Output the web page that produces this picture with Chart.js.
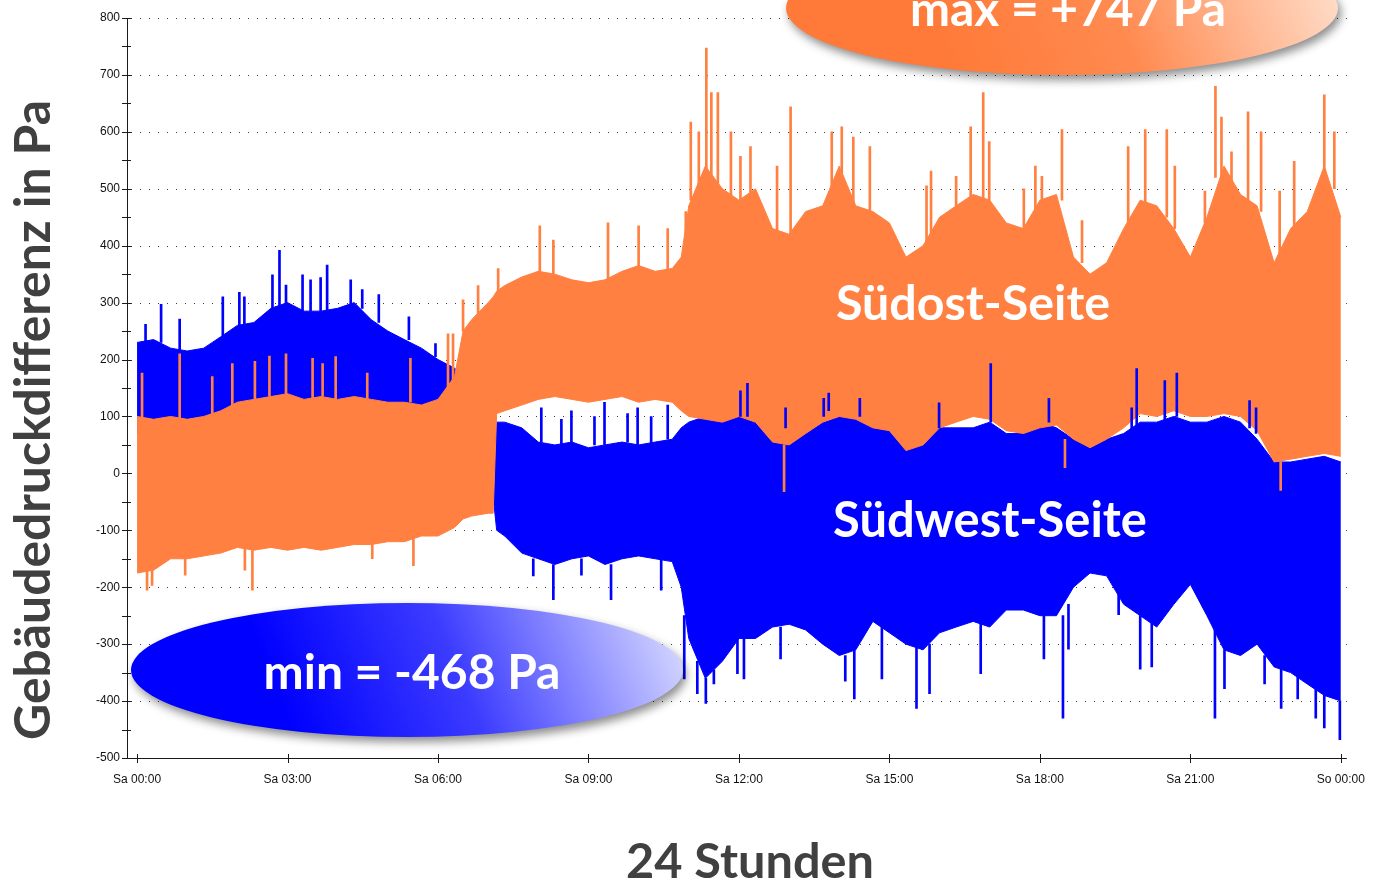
<!DOCTYPE html>
<html>
<head>
<meta charset="utf-8">
<script src="https://cdn.jsdelivr.net/npm/chart.js@4.4.0/dist/chart.umd.min.js"></script>
<style>
    html, body { margin: 0; padding: 0; background: #fff; }
    #wrap { width: 1379px; height: 883px; }
</style>
</head>
<body>
<div id="wrap"><canvas id="chart" width="1379" height="883"></canvas></div>
<script>
// time of day in hours (Sa 00:00 = 0, So 00:00 = 24)
const hours = [0, 0.33, 0.67, 1, 1.33, 1.67, 2, 2.33, 2.67, 3, 3.33, 3.67, 4, 4.33, 4.67, 5, 5.33, 5.67, 6, 6.33,
    6.5, 6.67, 7, 7.1, 7.17, 7.33, 7.67, 8, 8.33, 8.67, 9, 9.33, 9.67, 10, 10.33, 10.67, 10.85,
    11, 11.33, 11.67, 12, 12.33, 12.67, 13, 13.33, 13.67, 14, 14.33, 14.67, 15, 15.33, 15.67,
    16, 16.33, 16.67, 17, 17.33, 17.67, 18, 18.33, 18.67, 19, 19.33, 19.67, 20, 20.33, 20.67,
    21, 21.33, 21.67, 22, 22.33, 22.67, 23, 23.33, 23.67, 24];

// Südost-Seite: upper / lower envelope in Pa
const suedostHigh = [100, 95, 100, 95, 100, 110, 125, 130, 135, 140, 130, 135, 130, 135, 130, 125, 125, 120, 130, 170,
    250, 270, 300, 310, 320, 330, 345, 355, 350, 340, 335, 340, 355, 365, 355, 360, 380,
    470, 540, 500, 480, 500, 430, 420, 460, 470, 540, 470, 460, 440, 380, 400,
    450, 470, 490, 480, 440, 430, 480, 490, 380, 350, 370, 430, 480, 470, 430,
    380, 450, 540, 490, 470, 370, 430, 460, 540, 450];
const suedostLow = [-175, -170, -150, -150, -145, -140, -130, -135, -130, -135, -130, -135, -130, -125, -125, -120, -120, -110, -110, -95,
    -80, -75, -70, -70, 105, 110, 120, 130, 135, 130, 125, 130, 135, 125, 130, 125, 110,
    100, 95, 90, 100, 90, 55, 50, 70, 90, 100, 95, 80, 75, 40, 50,
    80, 90, 100, 95, 75, 70, 80, 85, 60, 45, 60, 80, 105, 100, 110,
    100, 100, 105, 100, 75, 20, 25, 30, 35, 30];

// Südwest-Seite: upper / lower envelope in Pa
const suedwestHigh = [230, 235, 220, 215, 220, 240, 260, 265, 290, 300, 285, 285, 290, 300, 270, 250, 235, 220, 200, 185,
    170, 100, 60, 60, 90, 90, 80, 55, 50, 55, 45, 50, 55, 50, 55, 60, 80,
    90, 100, 100, 110, 100, 80, 80, 100, 110, 110, 100, 80, 80, 60, 70,
    80, 80, 80, 90, 70, 70, 90, 80, 60, 50, 60, 70, 90, 90, 100,
    90, 90, 100, 90, 60, 20, 20, 25, 30, 20];
const suedwestLow = [70, 70, 65, 70, 65, 70, 90, 90, 95, 100, 100, 100, 100, 95, 95, 90, 90, 85, 90, 100,
    100, 40, -30, -40, -100, -110, -140, -150, -160, -150, -145, -160, -150, -145, -150, -155, -200,
    -290, -360, -330, -290, -290, -270, -265, -275, -300, -320, -310, -260, -280, -300, -310,
    -280, -270, -260, -270, -240, -240, -250, -250, -200, -175, -180, -230, -250, -270, -230,
    -195, -250, -310, -320, -300, -340, -350, -370, -390, -400];

// single peaks sticking out of the bands: hour, from, to
const suedostSpikeHours = [0.1, 0.2, 0.3, 0.85, 0.96, 1.5, 1.9, 2.15, 2.3, 2.35, 2.64, 2.97, 3.5, 3.7, 3.96,
    4.59, 4.69, 5.45, 5.51, 6.2, 6.3, 6.5, 6.8, 7.2, 8.03, 8.3, 9.39, 10.0, 10.58, 10.94,
    11.04, 11.2, 11.35, 11.45, 11.58, 11.84, 12.03, 12.23, 12.76, 12.9, 13.03, 13.85, 14.05, 14.28, 14.61,
    15.74, 15.83, 16.33, 16.62, 16.87, 16.99, 17.68, 17.91, 18.04, 18.44, 18.5, 18.84, 19.76,
    20.1, 20.53, 20.69, 21.29, 21.5, 21.62, 21.82, 22.15, 22.41, 22.78, 22.8, 23.07, 23.67, 23.87];
const suedostSpikeFrom = [95, -170, -165, 95, -148, 100, 115, -130, -130, 130, 135, 140, 130, 135, 130,
    130, -120, 125, -115, 125, 150, 250, 280, 320, 350, 350, 335, 360, 355, 420,
    480, 500, 520, 520, 500, 480, 480, 490, 420, 50, 420, 480, 520, 470, 460,
    400, 420, 470, 480, 480, 470, 430, 450, 470, 480, 60, 370, 440,
    470, 450, 430, 440, 520, 520, 500, 480, 460, 380, 20, 430, 520, 500];
const suedostSpikeTo = [176, -205, -197, 210, -179, 170, 193, -170, -205, 197, 206, 210, 202, 193, 205,
    176, -150, 202, -162, 245, 245, 305, 330, 360, 435, 410, 440, 435, 430, 460,
    617, 600, 747, 669, 669, 600, 557, 574, 540, -32, 644, 600, 609, 591, 574,
    505, 531, 522, 609, 669, 583, 500, 540, 522, 604, 10, 444, 574,
    604, 604, 540, 496, 680, 626, 565, 635, 600, 496, -30, 548, 665, 600];

const suedwestSpikeHours = [0.17, 0.48, 0.85, 1.71, 2.04, 2.14, 2.7, 2.84, 2.97, 3.3, 3.46, 3.66, 3.79,
    4.26, 4.49, 4.82, 5.42, 5.95, 7.9, 8.06, 8.3, 8.46, 8.66, 8.86, 9.12, 9.32, 9.45, 9.78, 9.98, 10.25,
    10.45, 10.58, 10.91, 11.17, 11.34, 11.5, 11.97, 12.1, 12.83, 14.12, 14.3, 14.85, 15.54, 15.8,
    16.82, 18.08, 18.46, 18.57, 19.57, 20.0, 20.23, 21.49, 21.68, 22.48, 22.81, 23.14, 23.5, 23.67, 23.98];
const suedwestSpikeFrom = [230, 230, 215, 240, 255, 260, 290, 290, 295, 285, 285, 285, 285,
    295, 290, 265, 235, 205, -150, 55, -160, 50, 55, -150, 50, 50, -160, 55, 50, 50,
    -150, 60, -250, -330, -360, -345, -290, -290, -270, -320, -310, -270, -300, -300,
    -260, -250, -250, -230, -200, -250, -260, -250, -310, -320, -340, -350, -370, -390, -400];
const suedwestSpikeTo = [262, 297, 271, 310, 318, 310, 349, 392, 331, 349, 340, 344, 366,
    340, 323, 314, 275, 228, -180, 115, -222, 95, 110, -179, 100, 125, -222, 105, 115, 100,
    -205, 120, -361, -387, -404, -370, -352, -361, -326, -365, -396, -361, -413, -387,
    -352, -326, -430, -309, -248, -344, -340, -430, -378, -370, -413, -396, -430, -447, -468];

// Südwest peaks that show in front of the Südost band
const suedwestFrontHours = [12.03, 12.17, 12.93, 13.69, 13.79, 14.41, 15.99, 17.02, 18.18, 19.83, 19.93, 20.49, 20.73, 22.18, 22.31];
const suedwestFrontFrom = [100, 100, 80, 100, 110, 100, 80, 90, 90, 70, 80, 90, 100, 80, 70];
const suedwestFrontTo = [145, 158, 115, 132, 141, 132, 124, 193, 132, 115, 184, 163, 176, 128, 115];

const yTickValues = [-500, -400, -300, -200, -100, 0, 100, 200, 300, 400, 500, 600, 700, 800];
const xTickHours = [0, 3, 6, 9, 12, 15, 18, 21, 24];
const xTickLabels = ['Sa 00:00', 'Sa 03:00', 'Sa 06:00', 'Sa 09:00', 'Sa 12:00', 'Sa 15:00', 'Sa 18:00', 'Sa 21:00', 'So 00:00'];

const ORANGE = '#ff8040';
const BLUE = '#0000ff';
const TITLE_FONT = 'Lato, "Open Sans", sans-serif';

const toPoints = (ys) => hours.map((h, i) => ({ x: h, y: ys[i] }));
const toSpikes = (hs, from, to) => hs.map((h, i) => ({ x: h, y: [from[i], to[i]] }));

function bubble(ctx, cx, cy, rx, ry, stops) {
    ctx.save();
    ctx.shadowColor = 'rgba(0,0,0,0.45)';
    ctx.shadowBlur = 10;
    ctx.shadowOffsetX = 3;
    ctx.shadowOffsetY = 5;
    const g = ctx.createLinearGradient(cx - rx * 0.4, cy + ry, cx + rx * 0.9, cy - ry * 1.2);
    stops.forEach(([p, c]) => g.addColorStop(p, c));
    ctx.fillStyle = g;
    ctx.beginPath();
    ctx.ellipse(cx, cy, rx, ry, 0, 0, Math.PI * 2);
    ctx.fill();
    ctx.restore();
}

// draws bold text centred on x, scaled so that it is `width` pixels wide
function fitText(ctx, text, x, y, width, color, angle) {
    ctx.save();
    ctx.font = `bold 40px ${TITLE_FONT}`;
    const size = 40 * width / ctx.measureText(text).width;
    ctx.font = `bold ${size}px ${TITLE_FONT}`;
    ctx.fillStyle = color;
    ctx.textAlign = 'center';
    ctx.textBaseline = 'alphabetic';
    ctx.translate(x, y);
    if (angle) ctx.rotate(angle);
    ctx.fillText(text, 0, 0);
    ctx.restore();
}

const framePlugin = {
    id: 'frame',
    beforeDatasetsDraw(chart) {
        const { ctx, chartArea: a, scales: { y } } = chart;
        ctx.save();
        ctx.strokeStyle = '#3a3a3a';
        ctx.lineWidth = 1;
        ctx.setLineDash([1, 8]);
        yTickValues.slice(1).forEach(v => {
            const py = Math.round(y.getPixelForValue(v)) + 0.5;
            ctx.beginPath();
            ctx.moveTo(a.left + 4, py);
            ctx.lineTo(a.right, py);
            ctx.stroke();
        });
        ctx.restore();
    },
    afterDatasetsDraw(chart) {
        const { ctx, chartArea: a, scales: { x, y } } = chart;
        ctx.save();
        ctx.strokeStyle = '#1a1a1a';
        ctx.lineWidth = 1;
        ctx.beginPath();
        ctx.moveTo(a.left + 0.5, a.top);
        ctx.lineTo(a.left + 0.5, a.bottom + 0.5);
        ctx.lineTo(a.right, a.bottom + 0.5);
        ctx.stroke();
        // y ticks every 50 crossing the axis
        yTickValues.forEach(v => {
            [v, v + 50].forEach(t => {
                if (t > yTickValues[yTickValues.length - 1]) return;
                const py = Math.round(y.getPixelForValue(t)) + 0.5;
                ctx.beginPath();
                ctx.moveTo(a.left - 5, py);
                ctx.lineTo(a.left + 4, py);
                ctx.stroke();
            });
        });
        xTickHours.forEach(h => {
            const px = Math.round(x.getPixelForValue(h)) + 0.5;
            ctx.beginPath();
            ctx.moveTo(px, a.bottom - 4);
            ctx.lineTo(px, a.bottom + 5);
            ctx.stroke();
        });
        ctx.restore();

        // labels on the plot
        fitText(ctx, 'Südost-Seite', 973, 320, 274, '#ffffff');
        fitText(ctx, 'Südwest-Seite', 990, 537, 314, '#ffffff');

        bubble(ctx, 1062, 8, 276, 67, [[0, '#ff7a38'], [0.45, '#ff8a50'], [1, '#ffdcc8']]);
        fitText(ctx, 'max = +747 Pa', 1068, 26, 316, '#ffffff');

        bubble(ctx, 407, 670, 276, 67, [[0, '#0000ff'], [0.45, '#3c3cff'], [1, '#d2d4ff']]);
        fitText(ctx, 'min = -468 Pa', 412, 689, 297, '#ffffff');
    },
    afterDraw(chart) {
        const { ctx } = chart;
        fitText(ctx, 'Gebäudedruckdifferenz in Pa', 50, 420, 640, '#404040', -Math.PI / 2);
        fitText(ctx, '24 Stunden', 750, 878, 248, '#404040');
    }
};

const bandLine = (label, data, color, fill, order) => ({
    type: 'line',
    label,
    data,
    borderColor: color,
    backgroundColor: color,
    borderWidth: 1,
    pointRadius: 0,
    tension: 0,
    fill,
    order
});

const spikeBars = (label, data, color, order) => ({
    type: 'bar',
    label,
    data,
    backgroundColor: color,
    borderWidth: 0,
    barThickness: 2,
    grouped: false,
    order
});

new Chart(document.getElementById('chart'), {
    type: 'line',
    data: {
        datasets: [
            bandLine('Südost max', toPoints(suedostHigh), ORANGE, '+1', 2),
            bandLine('Südost min', toPoints(suedostLow), ORANGE, false, 3),
            bandLine('Südwest max', toPoints(suedwestHigh), BLUE, '+1', 5),
            bandLine('Südwest min', toPoints(suedwestLow), BLUE, false, 6),
            spikeBars('Südost Spitzen', toSpikes(suedostSpikeHours, suedostSpikeFrom, suedostSpikeTo), ORANGE, 1),
            spikeBars('Südwest Spitzen', toSpikes(suedwestSpikeHours, suedwestSpikeFrom, suedwestSpikeTo), BLUE, 4),
            spikeBars('Südwest vorn', toSpikes(suedwestFrontHours, suedwestFrontFrom, suedwestFrontTo), BLUE, 0)
        ]
    },
    options: {
        responsive: false,
        animation: false,
        devicePixelRatio: 1,
        layout: { padding: { left: 0, top: 18, right: 27, bottom: 85 } },
        plugins: {
            legend: { display: false },
            tooltip: { enabled: false }
        },
        scales: {
            x: {
                type: 'linear',
                min: -0.2,
                max: 24.12,
                offset: false,
                grid: { display: false, drawTicks: false, offset: false },
                border: { display: false },
                afterBuildTicks: (s) => { s.ticks = xTickHours.map(v => ({ value: v })); },
                afterFit: (s) => { s.height = 40; },
                ticks: {
                    autoSkip: false,
                    maxRotation: 0,
                    padding: 14,
                    color: '#111',
                    font: { family: '"Liberation Sans", Arial, sans-serif', size: 12 },
                    callback: (v) => xTickLabels[xTickHours.indexOf(v)]
                }
            },
            y: {
                min: -500,
                max: 800,
                grid: { display: false, drawTicks: false },
                border: { display: false },
                afterBuildTicks: (s) => { s.ticks = yTickValues.map(v => ({ value: v })); },
                afterFit: (s) => { s.width = 127; },
                ticks: {
                    autoSkip: false,
                    padding: 7,
                    color: '#111',
                    font: { family: '"Liberation Sans", Arial, sans-serif', size: 12 },
                    callback: (v) => String(v)
                }
            }
        }
    },
    plugins: [framePlugin]
});
</script>
</body>
</html>
